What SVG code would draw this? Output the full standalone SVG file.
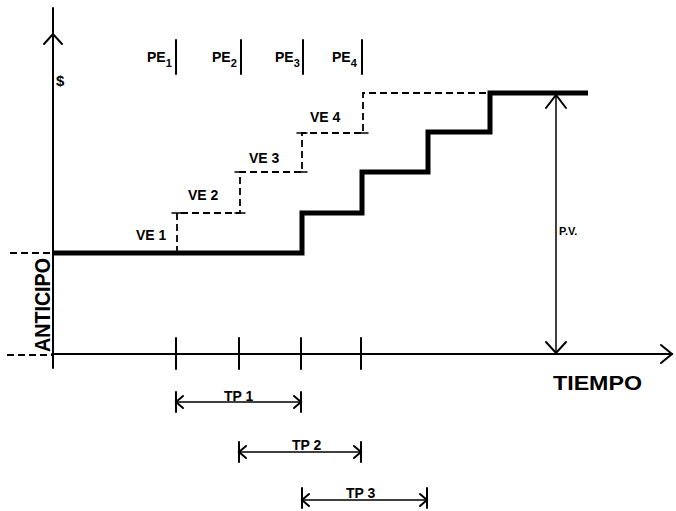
<svg xmlns="http://www.w3.org/2000/svg" width="676" height="511" viewBox="0 0 676 511">
<style>
.ax{stroke:#000;stroke-width:2;fill:none;stroke-linecap:round}
.thin{stroke:#000;stroke-width:1.5;fill:none;stroke-linecap:round}
.thick{stroke:#000;stroke-width:5;fill:none;stroke-linejoin:miter}
.dash{stroke:#000;stroke-width:1.8;fill:none;stroke-dasharray:7 4}
.lbl{font-family:"Liberation Sans",Arial,sans-serif;font-weight:bold;fill:#000}
</style>
<rect width="676" height="511" fill="#fff"/>
<g id="axes">
  <line class="ax" x1="53" y1="8" x2="53" y2="368"/>
  <polyline class="ax" points="44,44 53,34 62,44"/>
  <line class="ax" x1="52" y1="354" x2="672" y2="354"/>
  <polyline class="ax" points="661,345 672,354 661,363"/>
  <line class="dash" x1="10" y1="253" x2="52" y2="253"/>
  <line class="dash" x1="7" y1="355" x2="52" y2="355"/>
  <g class="ax">
    <line x1="176" y1="338" x2="176" y2="369"/>
    <line x1="239" y1="338" x2="239" y2="369"/>
    <line x1="301" y1="338" x2="301" y2="369"/>
    <line x1="361" y1="338" x2="361" y2="369"/>
  </g>
</g>
<g id="pe-bars" class="ax">
  <line x1="176" y1="40" x2="176" y2="74"/>
  <line x1="241" y1="40" x2="241" y2="74"/>
  <line x1="303" y1="40" x2="303" y2="74"/>
  <line x1="362" y1="40" x2="362" y2="74"/>
</g>
<g id="labels">
  <text class="lbl" x="56" y="86" font-size="15">$</text>
  <text class="lbl" x="147" y="62" font-size="14">PE<tspan font-size="11" dy="5">1</tspan></text>
  <text class="lbl" x="212" y="62" font-size="14">PE<tspan font-size="11" dy="5">2</tspan></text>
  <text class="lbl" x="275" y="62" font-size="14">PE<tspan font-size="11" dy="5">3</tspan></text>
  <text class="lbl" x="332" y="62" font-size="14">PE<tspan font-size="11" dy="5">4</tspan></text>
  <text class="lbl" x="136" y="240" font-size="14">VE 1</text>
  <text class="lbl" x="188" y="200" font-size="14">VE 2</text>
  <text class="lbl" x="249" y="163" font-size="14">VE 3</text>
  <text class="lbl" x="310" y="122" font-size="14">VE 4</text>
  <text class="lbl" x="559" y="235" font-size="11">P.V.</text>
  <text class="lbl" x="553" y="390" font-size="20" textLength="89" lengthAdjust="spacingAndGlyphs">TIEMPO</text>
  <text class="lbl" transform="translate(50,352) rotate(-90)" font-size="22" textLength="94" lengthAdjust="spacingAndGlyphs">ANTICIPO</text>
</g>
<g id="connectors">
  <polyline id="actual" class="thick" points="53,253 302,253 302,213 362,213 362,172 428,172 428,132 490,132 490,93 588,93"/>
  <polyline id="estimate" class="dash" points="177,253 177,213 240,213 240,172 302,172 302,133 363,133 363,93 490,93"/>
  <g class="thin">
    <line x1="172" y1="213" x2="182" y2="213"/><line x1="235" y1="213" x2="245" y2="213"/>
    <line x1="235" y1="172" x2="245" y2="172"/><line x1="297" y1="172" x2="307" y2="172"/>
    <line x1="297" y1="133" x2="307" y2="133"/><line x1="358" y1="133" x2="368" y2="133"/>
  </g>
  <g id="pv">
    <line class="thin" x1="556" y1="95" x2="556" y2="352"/>
    <polyline class="ax" points="546,108 556,95 566,108"/>
    <polyline class="ax" points="546,342 556,353 566,342"/>
  </g>
  <g id="tp1">
    <line class="thin" x1="176" y1="402" x2="301" y2="402"/>
    <line class="ax" x1="176" y1="392" x2="176" y2="412"/>
    <line class="ax" x1="301" y1="392" x2="301" y2="412"/>
    <polyline class="ax" points="183,396 176,402 183,408"/>
    <polyline class="ax" points="294,396 301,402 294,408"/>
    <rect x="223" y="387" width="34" height="14" fill="#fff"/>
    <text class="lbl" x="224" y="401" font-size="14">TP 1</text>
  </g>
  <g id="tp2">
    <line class="thin" x1="239" y1="452" x2="361" y2="452"/>
    <line class="ax" x1="239" y1="442" x2="239" y2="462"/>
    <line class="ax" x1="361" y1="442" x2="361" y2="462"/>
    <polyline class="ax" points="246,446 239,452 246,458"/>
    <polyline class="ax" points="354,446 361,452 354,458"/>
    <rect x="291" y="437" width="37" height="14" fill="#fff"/>
    <text class="lbl" x="292" y="450" font-size="14">TP 2</text>
  </g>
  <g id="tp3">
    <line class="thin" x1="302" y1="500" x2="427" y2="500"/>
    <line class="ax" x1="302" y1="488" x2="302" y2="508"/>
    <line class="ax" x1="427" y1="488" x2="427" y2="508"/>
    <polyline class="ax" points="309,494 302,500 309,506"/>
    <polyline class="ax" points="420,494 427,500 420,506"/>
    <rect x="345" y="485" width="38" height="14" fill="#fff"/>
    <text class="lbl" x="346" y="498" font-size="14">TP 3</text>
  </g>
</g>
</svg>
